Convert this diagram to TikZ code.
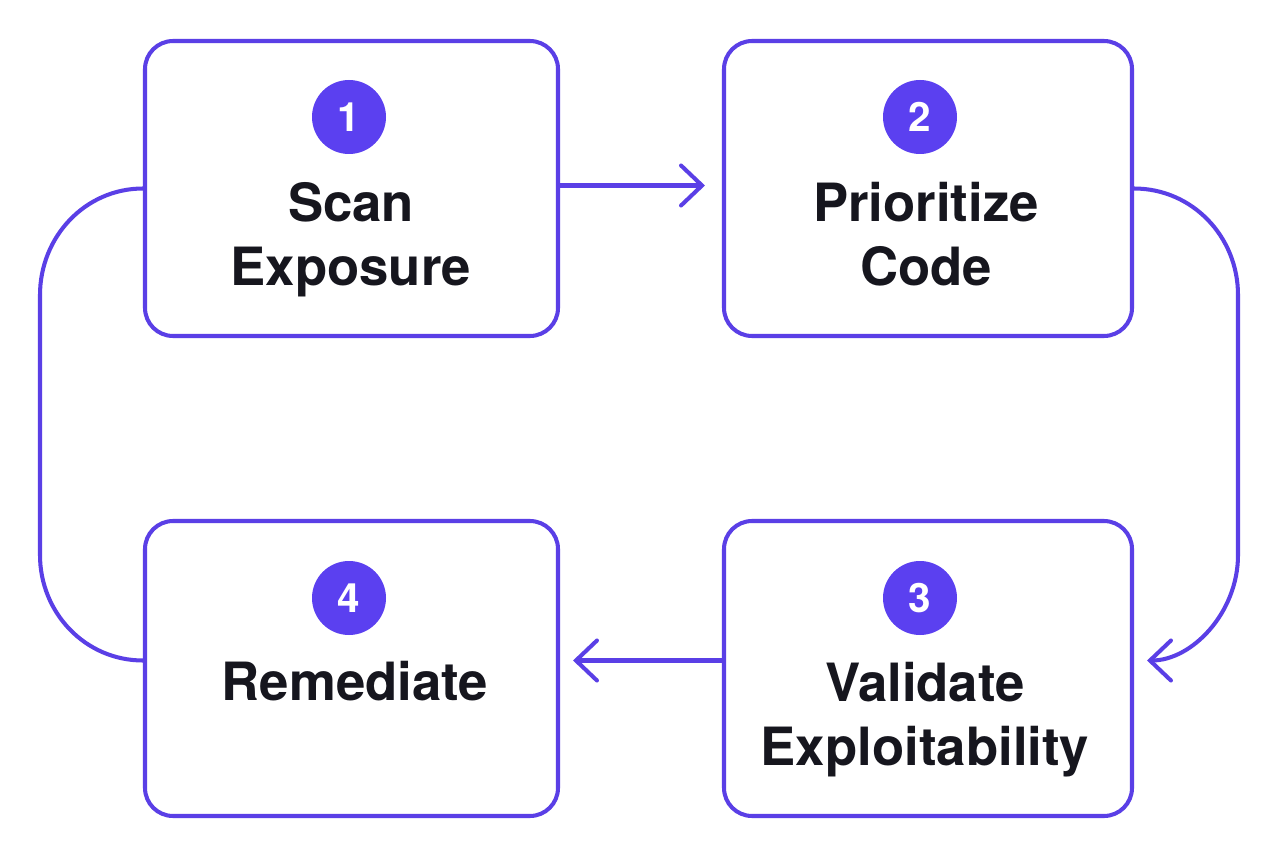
\documentclass[tikz,border=0pt]{standalone}
\usepackage{fontspec}
\setmainfont{TeX Gyre Heros}
\usetikzlibrary{arrows.meta,positioning}
\definecolor{flowviolet}{HTML}{5A3FE6}
\definecolor{badgeviolet}{HTML}{5B40F0}
\definecolor{inkdark}{HTML}{16161E}
\tikzset{
      stepbox/.style={
        rounded corners=16pt,
        draw=flowviolet,
        line width=2.3pt,
        fill=white,
        minimum height=5.9cm
      },
      badge/.style={
        circle,
        fill=badgeviolet,
        minimum size=1.48cm,
        inner sep=0pt,
        text=white,
        font=\fontsize{23}{26}\selectfont\bfseries
      },
      steptext/.style={
        align=center,
        anchor=base,
        text=inkdark,
        font=\fontsize{30}{36}\selectfont\bfseries
      },
      flow/.style={
        draw=flowviolet,
        line width=2.3pt,
        line cap=round,
        -{Straight Barb[length=0.42cm,width=0.8cm,line cap=round]}
      }
    }
\begin{document}
\begin{tikzpicture}[x=1cm,y=1cm]
    \useasboundingbox[fill=white] (0,0) rectangle (25.6,-17.12);
    \node[stepbox, minimum width=8.26cm] (b1) at (7.03,-3.77) {};
    \node[stepbox, minimum width=8.16cm] (b2) at (18.56,-3.77) {};
    \node[stepbox, minimum width=8.16cm] (b3) at (18.56,-13.37) {};
    \node[stepbox, minimum width=8.26cm] (b4) at (7.03,-13.37) {};
    \node[badge] (n1) at (6.98,-2.34) {1};
    \node[badge] (n2) at (18.4,-2.34) {2};
    \node[badge] (n3) at (18.4,-11.96) {3};
    \node[badge] (n4) at (6.98,-11.96) {4};
    % base anchor sits on the last line
    \node[steptext] (t1) at (7.02,-5.7) {Scan\\Exposure};
    \node[steptext] (t2) at (18.52,-5.7) {Prioritize\\Code};
    \node[steptext] (t3) at (18.5,-15.3) {Validate\\Exploitability};
    \node[steptext] (t4) at (7.1,-14.0) {Remediate};
    \draw[flow, shorten >=0.34cm] ([yshift=0.06cm]b1.east) -- ([yshift=0.06cm]b2.west);
    \draw[flow, shorten >=0.26cm] (b2.east) to[out=0,in=90] (24.76,-5.9) -- (24.76,-11.1)
        to[out=-90,in=0] ([yshift=0.16cm]b3.east);
    \draw[flow, shorten >=0.26cm] ([yshift=0.16cm]b3.west) -- ([yshift=0.16cm]b4.east);
    \draw[draw=flowviolet, line width=2.3pt] ([yshift=0.16cm]b4.west) to[out=180,in=-90] (0.8,-11.1)
        -- (0.8,-5.9) to[out=90,in=180] (b1.west);
\end{tikzpicture}
\end{document}
